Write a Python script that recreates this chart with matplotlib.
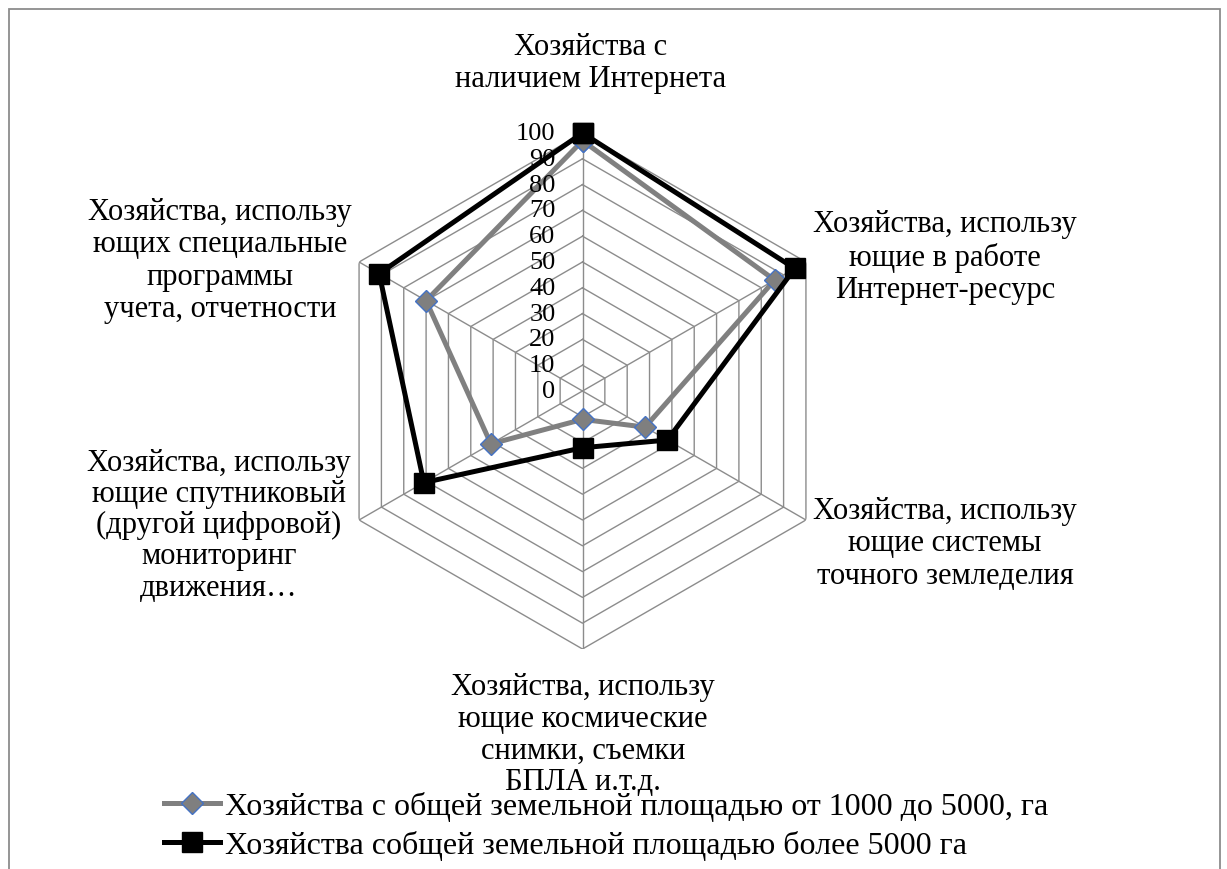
import numpy as np
import matplotlib
matplotlib.use("Agg")
import matplotlib.pyplot as plt
from matplotlib.patches import Rectangle
from matplotlib.lines import Line2D
import matplotlib.transforms as mtransforms

plt.rcParams['font.family'] = ['Liberation Serif', 'DejaVu Serif']

categories = [
    "Хозяйства с\nналичием Интернета",
    "Хозяйства, использу\nющие в работе\nИнтернет-ресурс",
    "Хозяйства, использу\nющие системы\nточного земледелия",
    "Хозяйства, использу\nющие космические\nснимки, съемки\nБПЛА и.т.д.",
    "Хозяйства, использу\nющие спутниковый\n(другой цифровой)\nмониторинг\nдвижения…",
    "Хозяйства, использу\nющих специальные\nпрограммы\nучета, отчетности",
]
series1_name = "Хозяйства с общей земельной площадью от 1000 до 5000, га"
series2_name = "Хозяйства собщей земельной площадью более 5000 га"
series1 = [97, 86, 28, 11, 41, 70]
series2 = [100, 95, 38, 22, 71, 91]
ticks = [0, 10, 20, 30, 40, 50, 60, 70, 80, 90, 100]

W, H = 1227, 870
fig = plt.figure(figsize=(W / 100, H / 100), dpi=100)

cx, cy, R = 582.5, 392, 258
ax = fig.add_axes([(cx - R) / W, (H - cy - R) / H, 2 * R / W, 2 * R / H], projection='polar')
ax.set_theta_zero_location('N')
ax.set_theta_direction(-1)
ax.set_ylim(0, 100)
ax.grid(False)
ax.set_xticks([])
ax.set_yticks([])
ax.spines['polar'].set_visible(False)
ax.patch.set_visible(False)

n = len(categories)
theta = np.arange(n) * 2 * np.pi / n
theta_c = np.append(theta, theta[0])

grid_col = '#8c8c8c'
for lv in ticks[1:]:
    ax.plot(theta_c, [lv] * (n + 1), color=grid_col, lw=1.0, zorder=1)
for t in theta:
    ax.plot([t, t], [0, 100], color=grid_col, lw=1.0, zorder=1)

s1 = np.append(series1, series1[0])
s2 = np.append(series2, series2[0])
ax.plot(theta_c, s1, color='#808080', lw=3.6, marker='D', markersize=11,
        markerfacecolor='#7f7f7f', markeredgecolor='#4472C4', markeredgewidth=1.0,
        zorder=3, clip_on=False)
ax.plot(theta_c, s2, color='black', lw=3.6, marker='s', markersize=14,
        markerfacecolor='black', markeredgecolor='black', zorder=4, clip_on=False)

off = mtransforms.offset_copy(ax.transData, fig=fig, x=-27, y=0, units='dots')
for lv in ticks:
    ax.text(0, lv, str(lv), transform=off, ha='right', va='center',
            fontsize=19, zorder=5)

label_pos = [(591, 63.5), (945, 257.5), (945, 544), (583, 735), (219, 525.6), (220, 261)]
spacings = [1.15, 1.15, 1.15, 1.13, 1.10, 1.15]
for lab, (x, y), ls in zip(categories, label_pos, spacings):
    fig.text(x / W, 1 - y / H, lab, ha='center', va='center', fontsize=22,
             linespacing=ls, multialignment='center')

# legend
handles = [
    Line2D([], [], color='#808080', lw=3.6, marker='D', markersize=11,
           markerfacecolor='#7f7f7f', markeredgecolor='#4472C4', markeredgewidth=1.0),
    Line2D([], [], color='black', lw=3.6, marker='s', markersize=14,
           markerfacecolor='black', markeredgecolor='black'),
]
fig.legend(handles, [series1_name, series2_name], loc='upper left',
           bbox_to_anchor=(148 / W, 1 - 776 / H), frameon=False, fontsize=23,
           handlelength=1.75, handletextpad=0.15, labelspacing=0.28, borderpad=0)

fig.add_artist(Rectangle((9 / W, -0.05), (1220 - 9) / W, 1.05 - 10 / H,
                         transform=fig.transFigure, fill=False,
                         edgecolor='#8c8c8c', lw=1.3))

fig.savefig('out.png', dpi=100)
